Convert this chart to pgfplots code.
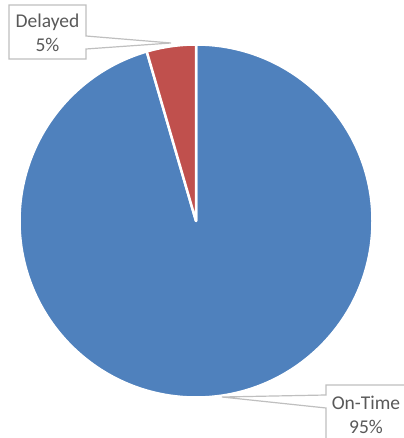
\documentclass[border=0pt]{standalone}
\usepackage{pgfplots}
\usepackage{pgfplotstable}
\pgfplotsset{compat=1.18}
\usepackage{fontspec}
\setmainfont{Carlito}
\definecolor{pieblue}{HTML}{4F81BD}
\definecolor{piered}{HTML}{C0504D}
\definecolor{lblgray}{HTML}{595959}
\definecolor{boxgray}{HTML}{BFBFBF}
\pgfplotstableread{
label value
On-Time 95.5
Delayed 4.5
}\piedata
\begin{document}
\begin{tikzpicture}
\pgfplotstablegetelem{0}{value}\of\piedata \edef\vA{\pgfplotsretval}
\pgfplotstablegetelem{1}{value}\of\piedata \edef\vB{\pgfplotsretval}
\pgfmathsetmacro{\tot}{\vA+\vB}
\pgfmathsetmacro{\aStart}{90}
\pgfmathsetmacro{\aMid}{90-360*(\vA/\tot)}
\pgfmathsetmacro{\aEnd}{90-360}
\begin{axis}[hide axis, scale only axis, width=404bp, height=438bp,
  xmin=0, xmax=404, ymin=0, ymax=438, clip=true]
\addplot[draw=none] coordinates {(0,0) (404,438)};
\fill[pieblue, draw=white, line width=2.5bp, line join=round] (axis cs:196,217) -- ++(\aStart:176.5bp)
  arc[start angle=\aStart, end angle=\aMid, radius=176.5bp] -- cycle;
\fill[piered, draw=white, line width=2.5bp, line join=round] (axis cs:196,217) -- ++(\aMid:176.5bp)
  arc[start angle=\aMid, end angle=\aEnd, radius=176.5bp] -- cycle;
\draw[boxgray, line width=1.2bp, fill=white] (axis cs:9,433) -- (axis cs:86,433) -- (axis cs:86,402)
  -- (axis cs:171,395) -- (axis cs:86,389) -- (axis cs:86,379) -- (axis cs:9,379) -- cycle;
\node[lblgray, align=center, font=\fontsize{19.5bp}{24bp}\selectfont] at (axis cs:47.5,405) {Delayed\\5\%};
\draw[boxgray, line width=1.2bp, fill=white] (axis cs:326,53) -- (axis cs:412,53) -- (axis cs:412,-10)
  -- (axis cs:326,-10) -- (axis cs:326,30) -- (axis cs:222,41) -- (axis cs:326,43) -- cycle;
\node[lblgray, align=center, font=\fontsize{19.5bp}{24bp}\selectfont] at (axis cs:366,23) {On-Time\\95\%};
\end{axis}
\pgfresetboundingbox
\useasboundingbox (0,0) rectangle (404bp,438bp);
\end{tikzpicture}
\end{document}
